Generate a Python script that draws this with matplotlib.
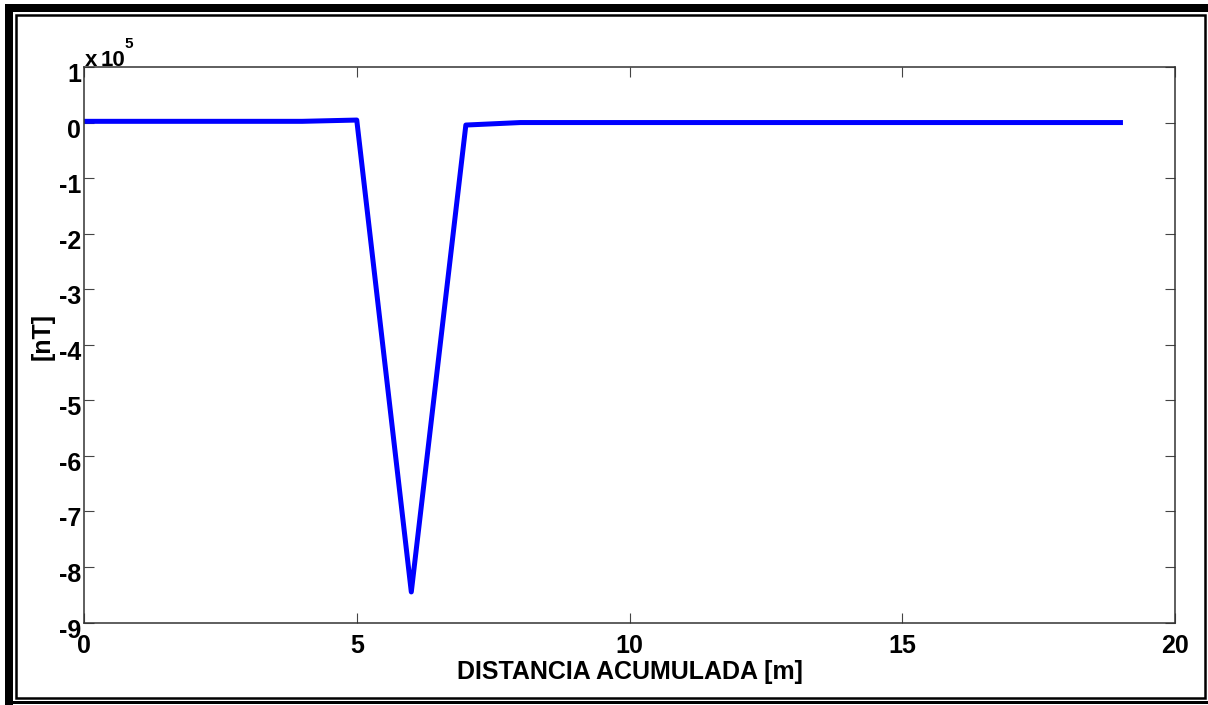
import matplotlib
matplotlib.use("Agg")
import matplotlib.pyplot as plt
from matplotlib.patches import Rectangle
from matplotlib.transforms import ScaledTranslation
import numpy as np

# perfil magnetico, valores en nT (escala x 10^5)
distancia = [0, 1, 2, 3, 4, 5, 6, 7, 8, 9, 10, 11, 12, 13, 14, 15, 16, 17, 18, 19]
campo = [0.022e5, 0.022e5, 0.022e5, 0.022e5, 0.022e5, 0.045e5, -8.45e5, -0.045e5,
         0.0, 0.0, 0.0, 0.0, 0.0, 0.0, 0.0, 0.0, 0.0, 0.0, 0.0, 0.0]

xticks = [0, 5, 10, 15, 20]
yticks = [1, 0, -1, -2, -3, -4, -5, -6, -7, -8, -9]

fuente = ["Liberation Sans", "DejaVu Sans"]
plt.rcParams["font.family"] = fuente
plt.rcParams["font.weight"] = "bold"

W, H = 1208, 705
fig = plt.figure(figsize=(W / 100, H / 100), dpi=100)


def caja(x0, y0, x1, y1):
    # coordenadas en pixeles (origen arriba a la izquierda) -> fraccion de figura
    return x0 / W, 1 - y1 / H, (x1 - x0) / W, (y1 - y0) / H


# marco doble alrededor de la figura
for (x0, y0, x1, y1) in [(5, 4, 13, 705), (5, 4, 1208, 12), (5, 701, 1208, 704)]:
    l, b, w, h = caja(x0, y0, x1, y1)
    fig.patches.append(Rectangle((l, b), w, h, transform=fig.transFigure,
                                 facecolor="black", edgecolor="none"))
l, b, w, h = caja(16, 15, 1205, 697.5)
fig.patches.append(Rectangle((l, b), w, h, transform=fig.transFigure,
                             facecolor="none", edgecolor="black", lw=1.8))

ax = fig.add_axes([84 / W, 1 - 622.5 / H, (1175 - 84) / W, (622.5 - 67) / H])
ax.plot(distancia, np.array(campo) / 1e5, color=(0, 0, 1), lw=3.6)

ax.set_xlim(0, 20)
ax.set_ylim(-9, 1)
ax.set_xticks(xticks)
ax.set_yticks(yticks)
ax.set_xticklabels([str(t) for t in xticks])
ax.set_yticklabels([str(t) for t in yticks])
ax.tick_params(direction="in", length=7.5, width=0.8, color="#444444",
               top=True, right=True, labelsize=18, pad=2)
ax.tick_params(axis="x", pad=8.5)
for s in ax.spines.values():
    s.set_color("#333333")
    s.set_linewidth(1.1)

# etiquetas del eje y algo desplazadas hacia abajo
for lab in ax.get_yticklabels():
    lab.set_transform(lab.get_transform() + ScaledTranslation(0, -0.055, fig.dpi_scale_trans))
    lab.set_fontweight("bold")
for lab in ax.get_xticklabels():
    lab.set_fontweight("bold")

ax.set_xlabel("DISTANCIA ACUMULADA [m]", fontsize=18, fontweight="bold")
ax.xaxis.set_label_coords(0.5, -0.067)
ax.set_ylabel("[nT]", fontsize=18, fontweight="bold")
ax.yaxis.set_label_coords(-0.027, 0.515)

# factor de escala del eje y
fig.text(85 / W, 1 - 66.5 / H, "x", fontsize=16, fontweight="bold", va="baseline")
fig.text(101 / W, 1 - 66.5 / H, "10", fontsize=16, fontweight="bold", va="baseline")
fig.text(124 / W, 1 - 48 / H, "5", fontsize=11, fontweight="bold", va="baseline")

fig.savefig("out.png", dpi=100)
